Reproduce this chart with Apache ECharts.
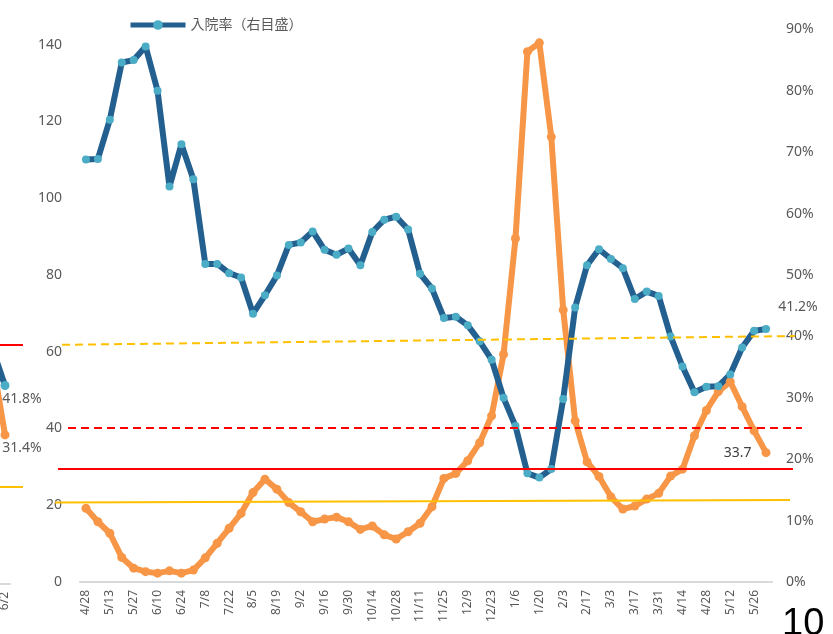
<!DOCTYPE html>
<html>
<head>
<meta charset="utf-8">
<script src="https://cdn.jsdelivr.net/npm/echarts@6/dist/echarts.min.js"></script>
<style>
  html, body { margin: 0; padding: 0; background: #fff; }
  #chart { width: 833px; height: 634px; }
</style>
</head>
<body>
<div id="chart"></div>
<script>
// weekly data, 4/28 .. 6/2 of next year
const weeks = [
  '4/28', '5/6', '5/13', '5/20', '5/27', '6/3', '6/10', '6/17', '6/24', '7/1',
  '7/8', '7/15', '7/22', '7/29', '8/5', '8/12', '8/19', '8/26', '9/2', '9/9',
  '9/16', '9/23', '9/30', '10/7', '10/14', '10/21', '10/28', '11/4', '11/11', '11/18',
  '11/25', '12/2', '12/9', '12/16', '12/23', '12/30', '1/6', '1/13', '1/20', '1/27',
  '2/3', '2/10', '2/17', '2/24', '3/3', '3/10', '3/17', '3/24', '3/31', '4/7',
  '4/14', '4/21', '4/28', '5/5', '5/12', '5/19', '5/26', '6/2'
]

// left axis (count)
const admissions = [
  19.2, 15.7, 12.7, 6.4, 3.6, 2.7, 2.3, 2.9, 2.3, 3.1,
  6.3, 10.1, 14.0, 17.9, 23.3, 26.8, 24.2, 20.7, 18.3, 15.7,
  16.4, 16.9, 15.7, 13.7, 14.6, 12.3, 11.2, 13.1, 15.3, 19.6,
  27.0, 28.3, 31.6, 36.3, 43.3, 59.3, 89.5, 138.2, 140.5, 116.0,
  70.9, 42.0, 31.3, 27.5, 22.2, 19.0, 19.8, 21.6, 23.1, 27.6,
  29.4, 38.1, 44.7, 49.6, 52.2, 45.7, 39.4, 33.7
]

// right axis (%)
const admissionRate = [
  68.8, 68.9, 75.3, 84.6, 85.0, 87.2, 80.0, 64.4, 71.3, 65.6,
  51.8, 51.8, 50.3, 49.6, 43.7, 46.7, 49.9, 54.9, 55.3, 57.1,
  54.1, 53.3, 54.3, 51.6, 57.0, 59.0, 59.5, 57.4, 50.2, 47.8,
  43.0, 43.2, 41.8, 39.2, 36.2, 30.0, 25.4, 17.7, 17.0, 18.4,
  29.8, 44.7, 51.6, 54.2, 52.6, 51.1, 46.1, 47.3, 46.6, 40.0,
  35.1, 30.9, 31.8, 31.9, 33.8, 38.2, 40.9, 41.2
]

// edge of the previous chart on the slide
const prevWeeks = ['5/26', '6/2']
const prevAdmissions = [44, 31.4]
const prevRate = [48, 41.8]

// threshold lines (left axis values)
const redLevel = 29.4
const redDashLevel = 40.3
const yellowLevel = [20.7, 21.4]
const yellowDashLevel = [61.8, 64.1]
const prevRedLevel = 50.3
const prevYellowLevel = 20.4

const FONT = '"Noto Sans", "Noto Sans CJK JP", sans-serif'
const GRAY = '#595959'
const BLUE = '#24608f'
const BLUE_DOT = '#4bacc6'
const ORANGE = '#f79646'

function lastLabel(arr, label) {
  return arr.map((v, i) => i === arr.length - 1 ? { value: v, label: label } : v)
}

function hLine(x1, y1, x2, y2, color, dashed) {
  return [
    { x: x1, yAxis: y1, lineStyle: { color, width: 2, type: dashed ? [8, 5] : 'solid' } },
    { x: x2, yAxis: y2 }
  ]
}

const chart = echarts.init(document.getElementById('chart'))

const option = {
  animation: false,
  textStyle: { fontFamily: FONT },
  legend: {
    data: ['入院率（右目盛）'],
    left: 123,
    top: 13,
    itemWidth: 55,
    itemHeight: 12,
    lineStyle: { width: 5 },
    textStyle: { color: GRAY, fontSize: 14, fontFamily: FONT }
  },
  grid: [
    { left: 80, right: 61, top: -32, bottom: 52, outerBoundsMode: 'none' },
    { left: -10, width: 20, top: 0, bottom: 50, outerBoundsMode: 'none' }
  ],
  xAxis: [
    {
      type: 'category',
      gridIndex: 0,
      data: weeks,
      boundaryGap: true,
      axisLine: { lineStyle: { color: '#d9d9d9', width: 2 } },
      axisTick: { show: false },
      axisLabel: { rotate: 90, interval: 1, color: GRAY, fontSize: 12, margin: 8 }
    },
    {
      type: 'category',
      gridIndex: 1,
      data: prevWeeks,
      boundaryGap: true,
      axisLine: { lineStyle: { color: '#d9d9d9', width: 2 } },
      axisTick: { show: false },
      axisLabel: { rotate: 90, interval: (i) => i === 1, color: GRAY, fontSize: 12, margin: 8 }
    }
  ],
  yAxis: [
    {
      type: 'value',
      gridIndex: 0,
      position: 'left',
      min: 0,
      max: 160,
      interval: 20,
      splitLine: { show: false },
      axisLine: { show: false },
      axisTick: { show: false },
      axisLabel: { color: GRAY, fontSize: 14, margin: 18 }
    },
    {
      type: 'value',
      gridIndex: 0,
      position: 'right',
      min: 0,
      max: 100,
      interval: 10,
      splitLine: { show: false },
      axisLine: { show: false },
      axisTick: { show: false },
      axisLabel: { color: GRAY, fontSize: 14, margin: 14, formatter: '{value}%' }
    },
    {
      type: 'value',
      gridIndex: 1,
      min: 0,
      max: 123,
      show: false
    }
  ],
  series: [
    {
      name: '入院者数',
      type: 'line',
      xAxisIndex: 0,
      yAxisIndex: 0,
      clip: false,
      showAllSymbol: true,
      data: lastLabel(admissions, {
        show: true, position: 'left', distance: 10, color: '#404040', fontSize: 14
      }),
      symbol: 'circle',
      symbolSize: 9,
      lineStyle: { color: ORANGE, width: 6 },
      itemStyle: { color: ORANGE },
      markLine: {
        silent: true,
        symbol: 'none',
        label: { show: false },
        data: [
          hLine(55, yellowLevel[0], 790, yellowLevel[1], '#ffc000', false),
          hLine(58, redLevel, 793, redLevel, '#ff0000', false),
          hLine(68, redDashLevel, 802, redDashLevel, '#ff0000', true),
          hLine(62, yellowDashLevel[0], 795, yellowDashLevel[1], '#ffc000', true)
        ]
      }
    },
    {
      name: '入院率（右目盛）',
      type: 'line',
      xAxisIndex: 0,
      yAxisIndex: 1,
      showAllSymbol: true,
      data: lastLabel(admissionRate, {
        show: true, position: 'top', offset: [32, -6], color: GRAY, fontSize: 14,
        formatter: (p) => p.value.toFixed(1) + '%'
      }),
      symbol: 'circle',
      symbolSize: 8,
      lineStyle: { color: BLUE, width: 6 },
      itemStyle: { color: BLUE_DOT }
    },
    {
      name: 'prev入院者数',
      type: 'line',
      xAxisIndex: 1,
      yAxisIndex: 2,
      clip: false,
      showAllSymbol: true,
      data: lastLabel(prevAdmissions, {
        show: true, position: 'bottom', distance: 2, offset: [17, 0], color: GRAY, fontSize: 14,
        formatter: (p) => p.value.toFixed(1) + '%'
      }),
      symbol: 'circle',
      symbolSize: 9,
      lineStyle: { color: ORANGE, width: 6 },
      itemStyle: { color: ORANGE },
      markLine: {
        silent: true,
        symbol: 'none',
        label: { show: false },
        data: [
          hLine(0, prevRedLevel, 23, prevRedLevel, '#ff0000', false),
          hLine(0, prevYellowLevel, 23, prevYellowLevel, '#ffc000', false)
        ]
      }
    },
    {
      name: 'prev入院率',
      type: 'line',
      xAxisIndex: 1,
      yAxisIndex: 2,
      clip: false,
      showAllSymbol: true,
      data: lastLabel(prevRate, {
        show: true, position: 'bottom', distance: 2, offset: [17, 0], color: GRAY, fontSize: 14,
        formatter: (p) => p.value.toFixed(1) + '%'
      }),
      symbol: 'circle',
      symbolSize: 9,
      lineStyle: { color: BLUE, width: 6 },
      itemStyle: { color: BLUE_DOT }
    }
  ],
  graphic: [
    {
      type: 'text',
      left: 782,
      top: 606,
      style: { text: '10', fontSize: 38, fill: '#000', fontFamily: '"Liberation Sans", Arial, sans-serif' }
    }
  ]
}

chart.setOption(option)
</script>
</body>
</html>
